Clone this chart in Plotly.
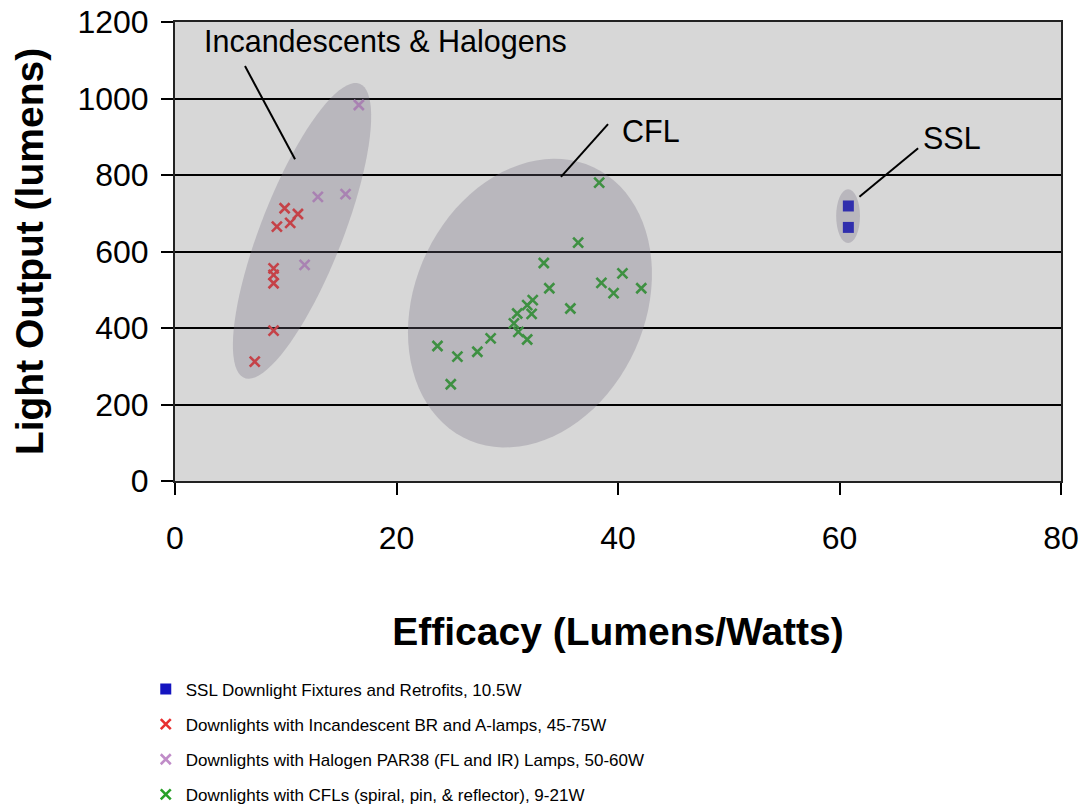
import numpy as np
import plotly.graph_objects as go

# ---- data (efficacy lm/W, light output lm) ----
ssl_x = [60.8, 60.8]
ssl_y = [719, 663]

inc_x = [7.2, 8.9, 8.9, 8.9, 8.9, 9.2, 9.9, 10.4, 11.1]
inc_y = [312, 393, 517, 539, 556, 665, 713, 675, 698]

hal_x = [11.7, 12.9, 15.4, 16.6]
hal_y = [565, 743, 750, 983]

cfl_x = [38.3, 36.4, 33.3, 33.8, 35.7, 38.5, 40.4, 39.6, 42.1, 32.3, 31.8,
         32.2, 30.9, 30.6, 31.0, 31.8, 28.5, 27.3, 25.5, 23.7, 24.9]
cfl_y = [780, 623, 570, 504, 451, 518, 543, 491, 504, 473, 460,
         437, 438, 412, 390, 370, 373, 338, 325, 353, 253]

series_names = [
    "SSL Downlight Fixtures and Retrofits, 10.5W",
    "Downlights with Incandescent BR and A-lamps, 45-75W",
    "Downlights with Halogen PAR38 (FL and IR) Lamps, 50-60W",
    "Downlights with CFLs (spiral, pin, & reflector), 9-21W",
]

x_ticks = [0, 20, 40, 60, 80]
y_ticks = [0, 200, 400, 600, 800, 1000, 1200]

FONT = "Liberation Sans, Arial, sans-serif"

# figure geometry (pixels); page body margin is removed below
W, H = 1083, 812
ML, MR, MT, MB = 175, 22, 22, 331
pw, ph = W - ML - MR, H - MT - MB
sx = pw / 80.0       # px per x unit
sy = ph / 1200.0     # px per y unit


def ellipse_path(cx, cy, a_px, b_px, ang_deg, n=90):
    t = np.linspace(0, 2 * np.pi, n)
    th = np.deg2rad(ang_deg)
    ex = a_px * np.cos(t) * np.cos(th) - b_px * np.sin(t) * np.sin(th)
    ey = a_px * np.cos(t) * np.sin(th) + b_px * np.sin(t) * np.cos(th)
    xs = cx + ex / sx
    ys = cy + ey / sy
    pts = [f"{x:.4f},{y:.4f}" for x, y in zip(xs, ys)]
    return "M " + " L ".join(pts) + " Z"


fig = go.Figure()

fig.add_trace(go.Scatter(
    x=ssl_x, y=ssl_y, mode="markers", name=series_names[0], legendgroup="g1",
    marker=dict(symbol="square", size=11, color="#1414c0")))
fig.add_trace(go.Scatter(
    x=inc_x, y=inc_y, mode="markers", name=series_names[1], legendgroup="g2",
    marker=dict(symbol="x-thin", size=10, line=dict(width=2.6, color="#e83030"))))
fig.add_trace(go.Scatter(
    x=hal_x, y=hal_y, mode="markers", name=series_names[2], legendgroup="g3",
    marker=dict(symbol="x-thin", size=10, line=dict(width=2.6, color="#c08cc8"))))
fig.add_trace(go.Scatter(
    x=cfl_x, y=cfl_y, mode="markers", name=series_names[3], legendgroup="g4",
    marker=dict(symbol="x-thin", size=10, line=dict(width=2.6, color="#28a028"))))

ell_style = dict(fillcolor="rgb(115,110,128)", opacity=0.3, line=dict(width=0),
                 layer="above", xref="x", yref="y")
fig.add_shape(type="path", path=ellipse_path(11.47, 654, 158, 41, 68.6), **ell_style)
fig.add_shape(type="path", path=ellipse_path(32.05, 465, 150, 115, 65), **ell_style)
fig.add_shape(type="circle", x0=59.7, x1=61.85, y0=622, y1=763, **ell_style)

line_style = dict(type="line", xref="x", yref="y", line=dict(color="black", width=2), layer="above")
fig.add_shape(x0=6.32, y0=1085, x1=10.84, y1=841, **line_style)
fig.add_shape(x0=39.1, y0=933, x1=34.85, y1=795, **line_style)
fig.add_shape(x0=67.1, y0=870, x1=61.8, y1=743, **line_style)

ann_font = dict(family=FONT, size=30.5, color="black")
fig.add_annotation(x=2.4, y=1150, text="Incandescents & Halogens", showarrow=False,
                   xanchor="left", yanchor="middle", font=ann_font)
fig.add_annotation(x=40.2, y=916, text="CFL", showarrow=False,
                   xanchor="left", yanchor="middle", font=ann_font)
fig.add_annotation(x=67.4, y=897, text="SSL", showarrow=False,
                   xanchor="left", yanchor="middle", font=ann_font)

fig.update_layout(
    width=W, height=H,
    margin=dict(l=ML, r=MR, t=MT, b=MB, autoexpand=False),
    paper_bgcolor="white", plot_bgcolor="#d7d7d7",
    font=dict(family=FONT, color="black"),
    showlegend=True,
    legend=dict(x=-0.033, y=-0.415, xanchor="left", yanchor="top",
                font=dict(family=FONT, size=17, color="black"),
                traceorder="grouped", tracegroupgap=10, bgcolor="rgba(0,0,0,0)"),
    xaxis=dict(range=[0, 80], tickvals=x_ticks, ticks="outside", ticklen=12,
               tickwidth=1.5, tickcolor="black", showgrid=False, zeroline=False,
               showline=True, linecolor="#222", linewidth=2, mirror=True,
               tickfont=dict(size=32), ticklabelstandoff=16, ticklabeloverflow="allow",
               title=dict(text="<b>Efficacy (Lumens/Watts)</b>", font=dict(size=39), standoff=62)),
    yaxis=dict(range=[0, 1200], tickvals=y_ticks, ticks="outside", ticklen=12,
               tickwidth=1.5, tickcolor="black", showgrid=True, gridcolor="black",
               gridwidth=2, zeroline=False,
               showline=True, linecolor="#222", linewidth=2, mirror=True,
               tickfont=dict(size=32), ticklabelstandoff=6, ticklabeloverflow="allow",
               title=dict(text="<b>Light Output (lumens)</b>", font=dict(size=39), standoff=22)),
)

fig.write_html("out.html", config={"displayModeBar": False},
               post_script="document.body.style.margin='0';document.body.style.overflow='hidden';")
